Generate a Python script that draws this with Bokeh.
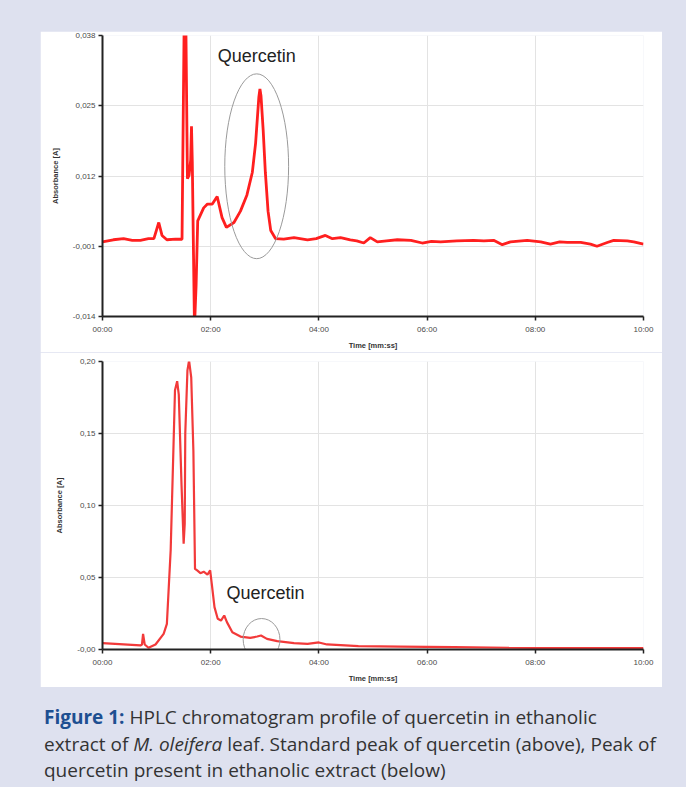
from bokeh.plotting import figure
from bokeh.models import Range1d, FixedTicker, Label, Div, Spacer
from bokeh.layouts import column, row
from bokeh.embed import file_html
from bokeh.resources import INLINE

# ---------------- data ----------------
time_ticks = [0, 2, 4, 6, 8, 10]
time_labels = ["00:00", "02:00", "04:00", "06:00", "08:00", "10:00"]

top_yticks = [-0.014, -0.001, 0.012, 0.025, 0.038]
top_ylabels = ["-0,014", "-0,001", "0,012", "0,025", "0,038"]

bot_yticks = [0.0, 0.05, 0.10, 0.15, 0.20]
bot_ylabels = ["-0,00", "0,05", "0,10", "0,15", "0,20"]

# standard quercetin (top) : time [min], absorbance [A]
std_time = [0.00, 0.20, 0.39, 0.55, 0.70, 0.85, 0.95, 1.04, 1.10, 1.19, 1.35, 1.47,
            1.51, 1.54, 1.57, 1.60, 1.63, 1.645, 1.66, 1.70, 1.73, 1.76,
            1.87, 1.94, 2.03, 2.12, 2.21, 2.29, 2.43, 2.55, 2.67, 2.77, 2.83,
            2.89, 2.91, 2.93, 2.97, 3.01, 3.06, 3.11, 3.20, 3.35, 3.54, 3.79,
            3.95, 4.12, 4.25, 4.40, 4.58, 4.70, 4.83, 4.95, 5.08, 5.25, 5.45,
            5.70, 5.91, 6.08, 6.25, 6.55, 6.86, 7.05, 7.23, 7.39, 7.54, 7.85,
            8.10, 8.28, 8.45, 8.59, 8.84, 9.02, 9.14, 9.33, 9.45, 9.70, 9.82, 10.0]
std_abs = [-0.0002, 0.0002, 0.0004, 0.0001, 0.0001, 0.0004, 0.0004, 0.0034, 0.0010, 0.0002, 0.0003, 0.0003,
           0.0410, 0.0410, 0.0115, 0.0121, 0.0150, 0.0212, 0.0145, -0.0160, -0.0083, 0.0037,
           0.0061, 0.0068, 0.0068, 0.0082, 0.0043, 0.0025, 0.0034, 0.0055, 0.0085, 0.0127, 0.0181,
           0.0266, 0.0281, 0.0268, 0.0205, 0.0127, 0.0055, 0.0019, 0.0004, 0.0003, 0.0006, 0.0002,
           0.0004, 0.0010, 0.0004, 0.0006, 0.0002, 0.0000, -0.0004, 0.0006, -0.0002, 0.0000, 0.0002,
           0.0001, -0.0004, -0.0001, -0.0002, 0.0000, 0.0001, 0.0000, 0.0001, -0.0007, -0.0002, 0.0001,
           -0.0002, -0.0006, -0.0002, -0.0003, -0.0003, -0.0006, -0.0010, -0.0003, 0.0001, 0.0000, -0.0002, -0.0006]

# ethanolic extract (bottom)
ext_time = [0.00, 0.39, 0.70, 0.73, 0.75, 0.78, 0.85, 0.98, 1.13, 1.19, 1.26, 1.31,
            1.34, 1.38, 1.41, 1.46, 1.50, 1.52, 1.53, 1.57, 1.60, 1.64, 1.68, 1.71,
            1.75, 1.81, 1.87, 1.94, 1.99, 2.02, 2.07, 2.13, 2.19, 2.25, 2.30, 2.40,
            2.55, 2.73, 2.86, 2.93, 3.04, 3.23, 3.54, 3.79, 4.00, 4.15, 4.40, 4.73,
            5.50, 6.50, 7.50, 8.50, 10.0]
ext_abs = [0.0044, 0.0035, 0.0028, 0.0035, 0.0109, 0.0035, 0.0012, 0.0035, 0.0109, 0.0178, 0.0688, 0.1380,
           0.1800, 0.1863, 0.1770, 0.1150, 0.0734, 0.0873, 0.1500, 0.1938, 0.2007, 0.1890, 0.1380, 0.0560,
           0.0549, 0.0530, 0.0540, 0.0520, 0.0549, 0.0456, 0.0294, 0.0213, 0.0201, 0.0236, 0.0190, 0.0120,
           0.0090, 0.0081, 0.0090, 0.0097, 0.0074, 0.0058, 0.0044, 0.0039, 0.0049, 0.0035, 0.0030, 0.0023,
           0.0020, 0.0016, 0.0012, 0.0010, 0.0009]

# annotation positions (data units)
top_label_pos = (2.13, 0.0342)
top_ellipse = (2.85, 0.0138, 1.18, 0.0342)
bot_label_pos = (2.29, 0.0389)
bot_ellipse = (2.94, 0.0069, 0.68, 0.0292)

# ---------------- styling ----------------
LAVENDER = "#dee1ef"
CHART_FONT = "Liberation Sans"


def make_fig(height, top_border, bottom_border, yr, yticks, ylabels):
    p = figure(width=622, height=height, x_range=Range1d(0, 10), y_range=Range1d(*yr),
               output_backend="svg", toolbar_location=None,
               min_border_left=62, min_border_right=19,
               min_border_top=top_border, min_border_bottom=bottom_border)
    p.outline_line_color = None
    p.background_fill_color = "white"
    p.border_fill_color = "white"

    p.xaxis.ticker = FixedTicker(ticks=time_ticks)
    p.xaxis.major_label_overrides = dict(zip(time_ticks, time_labels))
    p.yaxis.ticker = FixedTicker(ticks=yticks)
    p.yaxis.major_label_overrides = dict(zip(yticks, ylabels))
    p.xgrid.ticker = FixedTicker(ticks=time_ticks)
    p.ygrid.ticker = FixedTicker(ticks=yticks)

    for ax in (p.xaxis, p.yaxis):
        ax.axis_line_color = "#222222"
        ax.axis_line_width = 2
        ax.major_tick_line_color = "#222222"
        ax.major_tick_line_width = 1.5
        ax.major_tick_out = 4
        ax.major_tick_in = 0
        ax.minor_tick_line_color = None
        ax.major_label_text_font = CHART_FONT
        ax.major_label_text_font_size = "8px"
        ax.major_label_text_color = "#4a4a4a"
        ax.axis_label_text_font = CHART_FONT
        ax.axis_label_text_font_size = "7.5px"
        ax.axis_label_text_font_style = "bold"
        ax.axis_label_text_color = "#333333"
    p.xaxis.major_label_standoff = 4
    p.yaxis.major_label_standoff = 3
    p.xaxis.axis_label = "Time [mm:ss]"
    p.yaxis.axis_label = "Absorbance [A]"
    p.xaxis.axis_label_standoff = 4
    p.yaxis.axis_label_standoff = 10

    for g in (p.xgrid, p.ygrid):
        g.grid_line_color = "#e3e3e3"
        g.grid_line_width = 1
    return p


p1 = make_fig(321, 4, 29, (-0.014, 0.038), top_yticks, top_ylabels)
p1.line(std_time, std_abs, line_color="#ff1f1f", line_width=2.8)
p1.ellipse(x=[top_ellipse[0]], y=[top_ellipse[1]], width=[top_ellipse[2]], height=[top_ellipse[3]],
           fill_color=None, line_color="#9a9a9a", line_width=1)
p1.add_layout(Label(x=top_label_pos[0], y=top_label_pos[1], text="Quercetin",
                    text_font=CHART_FONT, text_font_size="18px",
                    text_color="#222222", text_baseline="middle"))

p2 = make_fig(335, 9, 38, (0.0, 0.20), bot_yticks, bot_ylabels)
p2.line(ext_time, ext_abs, line_color="#f23a3a", line_width=2.2)
p2.ellipse(x=[bot_ellipse[0]], y=[bot_ellipse[1]], width=[bot_ellipse[2]], height=[bot_ellipse[3]],
           fill_color=None, line_color="#9a9a9a", line_width=1)
p2.add_layout(Label(x=bot_label_pos[0], y=bot_label_pos[1], text="Quercetin",
                    text_font=CHART_FONT, text_font_size="18px",
                    text_color="#222222", text_baseline="middle"))

caption_html = (
    '<div style="font-family:\'Open Sans\'; font-size:19px; line-height:26.5px; color:#333333; '
    'margin-left:39px; margin-top:12px; white-space:nowrap;">'
    '<span style="font-weight:bold; color:#1d4f91;">Figure 1:</span> '
    'HPLC chromatogram profile of quercetin in ethanolic<br>'
    'extract of <i>M. oleifera</i> leaf. Standard peak of quercetin (above), Peak of<br>'
    'quercetin present in ethanolic extract (below)</div>'
)
caption = Div(text=caption_html, width=678, height=90)

layout = column(
    Spacer(width=678, height=31),
    row(Spacer(width=40, height=656), column(p1, p2)),
    caption,
    styles={"background-color": LAVENDER},
)

open("out.html", "w").write(file_html(layout, INLINE, title="HPLC chromatogram"))
